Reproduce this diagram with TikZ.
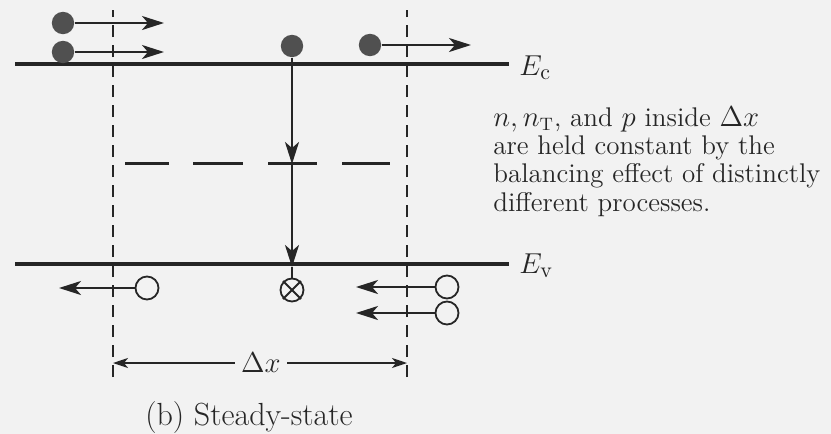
\documentclass[tikz,border=0pt]{standalone}
\usetikzlibrary{arrows.meta}
\definecolor{ink}{HTML}{262626}
\definecolor{paper}{HTML}{F2F2F2}
\definecolor{dot}{HTML}{505050}
\begin{document}
\begin{tikzpicture}[x=0.5pt,y=-0.5pt,
  band/.style={draw=ink,line width=1.6pt},
  trapdash/.style={draw=ink,line width=1.5pt},
  bound/.style={draw=ink,line width=1.4pt,dash pattern=on 6pt off 4pt},
  electron/.style={circle,fill=dot,inner sep=0pt,minimum size=11.2pt},
  hole/.style={circle,draw=ink,fill=paper,line width=0.9pt,inner sep=0pt,minimum size=11.5pt},
  flow/.style={draw=ink,line width=1.2pt,-{Stealth[length=11pt,width=7pt,inset=3pt]}},
  dim/.style={draw=ink,line width=0.8pt,-{Stealth[length=7.5pt,width=5pt,inset=2pt]}},
  lbl/.style={text=ink,inner sep=0pt,font=\fontsize{13.5}{14.2}\selectfont},
  elbl/.style={text=ink,inner sep=0pt,font=\fontsize{15}{18}\selectfont}
]
\fill[paper] (0,0) rectangle (831,434);
\useasboundingbox (0,0) rectangle (831,434);

% boundaries of the slice
\coordinate (bLb) at (113,377); \coordinate (bLt) at (113,10);
\coordinate (bRb) at (407,377); \coordinate (bRt) at (407,10);
\draw[bound] (bLb) -- (bLt);
\draw[bound] (bRb) -- (bRt);

% band edges
\coordinate (ecL) at (15,64); \coordinate (ecR) at (509,64);
\coordinate (evL) at (15,264); \coordinate (evR) at (509,264);
\draw[band] (ecL) -- (ecR);
\draw[band] (evL) -- (evR);
\node[elbl,anchor=base west] (ec) at (519,75) {$E_{\mathrm{c}}$};
\node[elbl,anchor=base west] (ev) at (519,273) {$E_{\mathrm{v}}$};

% trap level
\foreach \a/\b in {125/169,193/243,268/317,342/390}
  \draw[trapdash] (\a,163) -- (\b,163);

% electrons
\node[electron] (e1) at (63,23) {};
\node[electron] (e2) at (63,52) {};
\node[electron] (e3) at (292,46) {};
\node[electron] (e4) at (370,45) {};
\coordinate (e1t) at (164,23);
\coordinate (e2t) at (164,52);
\coordinate (e4t) at (471,45);
\draw[flow] (e1) -- (e1t);
\draw[flow] (e2) -- (e2t);
\draw[flow] (e4) -- (e4t);

% capture / recombination path
\coordinate (tr) at (292,164);
\coordinate (vb) at (292,267);
\node[hole] (hx) at (292,290) {};
\draw[ink,line width=0.9pt] ([shift={(-9,-9)}]hx.center) -- ([shift={(9,9)}]hx.center);
\draw[ink,line width=0.9pt] ([shift={(-9,9)}]hx.center) -- ([shift={(9,-9)}]hx.center);
\draw[flow] (e3) -- (tr);
\draw[flow] (tr) -- (vb);
\draw[ink,line width=1.2pt] (vb) -- (hx);

% holes
\node[hole] (h1) at (147,288) {};
\node[hole] (h2) at (447,287) {};
\node[hole] (h3) at (447,313) {};
\coordinate (h1t) at (59,288);
\coordinate (h2t) at (356,287);
\coordinate (h3t) at (356,313);
\draw[flow] (h1) -- (h1t);
\draw[flow] (h2) -- (h2t);
\draw[flow] (h3) -- (h3t);

% width of the slice
\node[lbl,inner xsep=3pt,font=\fontsize{14.5}{17}\selectfont] (dx) at (261,363) {$\Delta x$};
\coordinate (dl) at (113,363);
\coordinate (dr) at (407,363);
\draw[dim] (dx) -- (dl);
\draw[dim] (dx) -- (dr);

% note
\node[lbl,anchor=north west,align=left] (note) at (493,106)
  {$n, n_{\mathrm{T}}$, and $p$ inside $\Delta x$\\are held constant by the\\balancing effect of distinctly\\different processes.};

% caption
\node[lbl,anchor=base,font=\fontsize{16}{19}\selectfont] (cap) at (249,425) {(b) Steady-state};
\end{tikzpicture}
\end{document}
